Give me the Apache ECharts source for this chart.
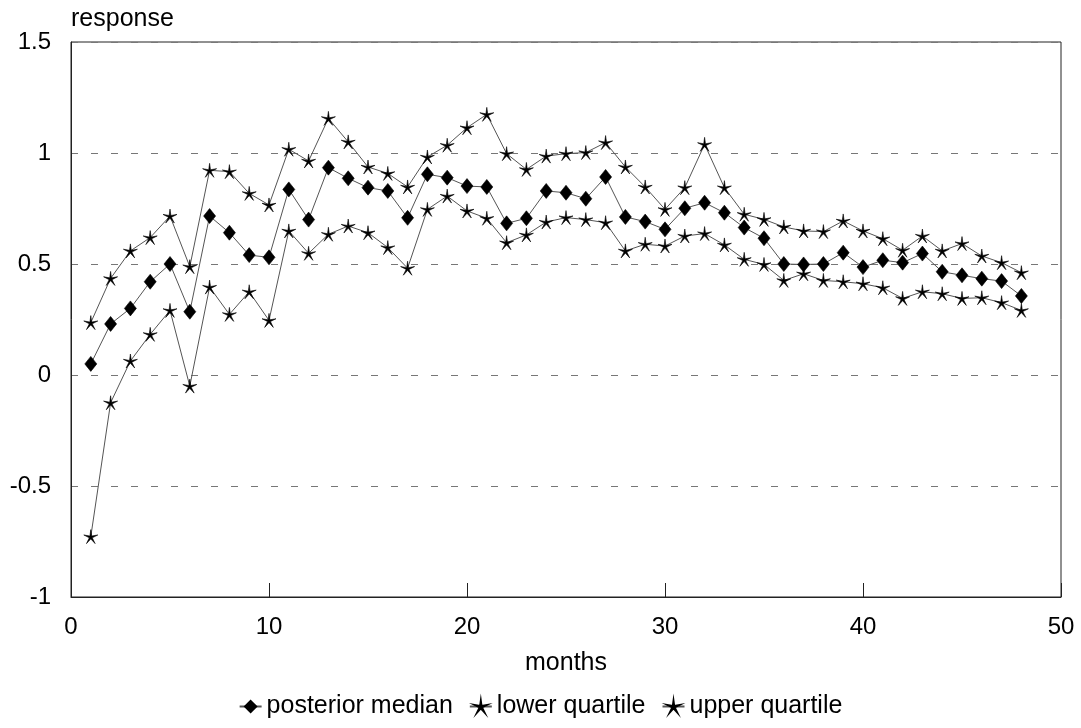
<!DOCTYPE html>
<html>
<head>
<meta charset="utf-8">
<script src="https://cdn.jsdelivr.net/npm/echarts@6/dist/echarts.min.js"></script>
<style>html,body{margin:0;padding:0;background:#fff}#c{width:1081px;height:728px}</style>
</head>
<body>
<div id="c"></div>
<script>
const months = [1,2,3,4,5,6,7,8,9,10,11,12,13,14,15,16,17,18,19,20,21,22,23,24,25,26,27,28,29,30,31,32,33,34,35,36,37,38,39,40,41,42,43,44,45,46,47,48];
const posteriorMedian = [0.05,0.23,0.30,0.42,0.50,0.285,0.716,0.641,0.54,0.53,0.836,0.70,0.934,0.886,0.844,0.829,0.708,0.904,0.889,0.851,0.847,0.683,0.706,0.829,0.821,0.794,0.892,0.712,0.691,0.656,0.751,0.776,0.731,0.664,0.616,0.50,0.498,0.50,0.551,0.486,0.517,0.506,0.547,0.465,0.449,0.434,0.423,0.356];
const lowerQuartile = [-0.728,-0.125,0.063,0.183,0.291,-0.05,0.396,0.273,0.375,0.246,0.649,0.548,0.634,0.671,0.641,0.574,0.481,0.746,0.806,0.739,0.706,0.596,0.631,0.689,0.709,0.70,0.686,0.559,0.589,0.581,0.626,0.637,0.586,0.521,0.498,0.426,0.456,0.426,0.42,0.411,0.393,0.345,0.375,0.366,0.345,0.348,0.326,0.291];
const upperQuartile = [0.236,0.435,0.559,0.619,0.716,0.488,0.922,0.916,0.818,0.766,1.017,0.964,1.156,1.05,0.937,0.908,0.847,0.982,1.035,1.114,1.174,0.997,0.926,0.986,0.997,1.002,1.047,0.937,0.847,0.746,0.844,1.039,0.844,0.724,0.701,0.667,0.649,0.646,0.694,0.649,0.614,0.562,0.626,0.559,0.592,0.536,0.506,0.461];
const seriesNames = ['posterior median','lower quartile','upper quartile'];

const star = 'path://M10 0 L11.2 8.3 L19.511 6.910 L12.0 10.6 L15.878 18.090 L10 12.0 L4.122 18.090 L8.0 10.6 L0.489 6.910 L8.8 8.3 Z';
const font = 'Liberation Sans, Arial, Helvetica, sans-serif';

function pairs(vals){ return months.map((m,i)=>[m, vals[i]]); }
function mkSeries(name, vals, symbol, size){
  return {
    name: name, type: 'line', data: pairs(vals),
    symbol: symbol, symbolSize: size, showSymbol: true,
    lineStyle: {color: '#555', width: 1},
    itemStyle: {color: '#000', borderColor: '#000', borderWidth: 0.6},
    animation: false
  };
}

const chart = echarts.init(document.getElementById('c'), null, {renderer: 'canvas'});
chart.setOption({
  backgroundColor: '#fff',
  animation: false,
  grid: {left: 71, right: 20, top: 42, bottom: 131, show: true, borderColor: '#222', borderWidth: 1},
  legend: {
    bottom: 4, left: 'center', itemWidth: 22, itemHeight: 14, itemGap: 16,
    textStyle: {fontFamily: font, fontSize: 25, color: '#000'},
    data: seriesNames
  },
  xAxis: {
    type: 'value', min: 0, max: 50, interval: 10,
    name: 'months', nameLocation: 'middle', nameGap: 54,
    nameTextStyle: {fontFamily: font, fontSize: 25, color: '#000'},
    axisLine: {show: true, onZero: false, lineStyle: {color: '#222', width: 1}},
    axisTick: {show: true, inside: true, length: 14, lineStyle: {color: '#222'}},
    axisLabel: {fontFamily: font, fontSize: 24, color: '#000', margin: 18},
    splitLine: {show: false}
  },
  yAxis: {
    type: 'value', min: -1, max: 1.5, interval: 0.5,
    name: 'response', nameLocation: 'end', nameGap: 10,
    nameTextStyle: {fontFamily: font, fontSize: 25, color: '#000', align: 'left'},
    axisLine: {show: true, lineStyle: {color: '#222', width: 1}},
    axisTick: {show: false},
    axisLabel: {fontFamily: font, fontSize: 24, color: '#000', margin: 20},
    splitLine: {show: true, lineStyle: {color: '#777', width: 1, type: [7, 13]}}
  },
  series: [
    mkSeries(seriesNames[0], posteriorMedian, 'diamond', [12, 15]),
    mkSeries(seriesNames[1], lowerQuartile, star, 14),
    mkSeries(seriesNames[2], upperQuartile, star, 14)
  ]
});
</script>
</body>
</html>
